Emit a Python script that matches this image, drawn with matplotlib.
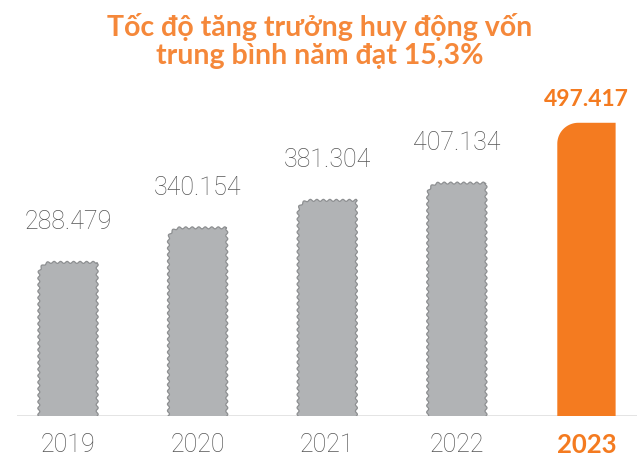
import numpy as np
import matplotlib
matplotlib.use('Agg')
import matplotlib.pyplot as plt
from matplotlib.patches import PathPatch
from matplotlib.path import Path
from matplotlib.transforms import ScaledTranslation

# data (nghìn tỷ đồng)
years = ['2019', '2020', '2021', '2022', '2023']
values = [288.479, 340.154, 381.304, 407.134, 497.417]
value_labels = ['288.479', '340.154', '381.304', '407.134', '497.417']
title = 'Tốc độ tăng trưởng huy động vốn\ntrung bình năm đạt 15,3%'

ORANGE = '#f47b20'
TITLE_ORANGE = '#f5883a'
GRAY_FILL = '#b1b3b5'
GRAY_EDGE = '#8d8f91'
TEXT_GRAY = '#555555'
LIGHT_FONT = ['Roboto', 'DejaVu Sans']
BOLD_FONT = ['Lato', 'DejaVu Sans']

W, H, DPI = 640, 464, 100
BASE = 58.6
fig = plt.figure(figsize=(W / DPI, H / DPI), dpi=DPI)
ax = fig.add_axes([17 / W, (H - 417) / H, 620 / W, 317 / H])
ax.set_xlim(-0.3935, 4.39)
ax.set_ylim(BASE, 533)
ax.axis('off')
ax.axhline(BASE, color='#7a7a7a', lw=1.0, zorder=1)

bars = ax.bar(range(len(years)), values, width=0.45, color='none', edgecolor='none')


def outline_px(x0, x1, y0, y1, r, wavy):
    """Perimeter of a bar with rounded top-left corner, in pixel space."""
    pts = []
    step = 0.5
    for x in np.arange(x0, x1, step):
        pts.append((x, y0, 0, -1))
    for y in np.arange(y0, y1, step):
        pts.append((x1, y, 1, 0))
    for x in np.arange(x1, x0 + r, -step):
        pts.append((x, y1, 0, 1))
    cx, cy = x0 + r, y1 - r
    for a in np.linspace(np.pi / 2, np.pi, 30):
        pts.append((cx + r * np.cos(a), cy + r * np.sin(a), np.cos(a), np.sin(a)))
    for y in np.arange(y1 - r, y0, -step):
        pts.append((x0, y, -1, 0))
    pts = np.array(pts)
    if wavy:
        d = np.concatenate([[0], np.cumsum(np.hypot(np.diff(pts[:, 0]), np.diff(pts[:, 1])))])
        off = 1.0 * np.sin(2 * np.pi * d / 6.5)
        pts[:, 0] += off * pts[:, 2]
        pts[:, 1] += off * pts[:, 3]
    return pts[:, :2]


inv = ax.transData.inverted()
below = ax.transData + ScaledTranslation(0, -28 / DPI, fig.dpi_scale_trans)
for i, rect in enumerate(bars):
    px0, py0 = ax.transData.transform((rect.get_x(), rect.get_y()))
    px1, py1 = ax.transData.transform((rect.get_x() + rect.get_width(),
                                       rect.get_y() + rect.get_height()))
    last = i == len(bars) - 1
    pts = inv.transform(outline_px(px0, px1, py0, py1, 21 if last else 12, not last))
    path = Path(np.vstack([pts, pts[:1]]), closed=True)
    if last:
        patch = PathPatch(path, facecolor=ORANGE, edgecolor='none', zorder=2)
    else:
        patch = PathPatch(path, facecolor=GRAY_FILL, edgecolor=GRAY_EDGE, lw=0.9, zorder=2)
    ax.add_patch(patch)

    cx = rect.get_x() + rect.get_width() / 2
    top = rect.get_y() + rect.get_height()
    if last:
        ax.annotate(value_labels[i], (cx, top), xytext=(0, 14), textcoords='offset pixels',
                    ha='center', va='bottom', fontsize=16.5, fontweight='bold',
                    color=ORANGE, family=BOLD_FONT)
        ax.text(cx, BASE, years[i], transform=below, ha='center', va='center',
                fontsize=18.5, fontweight='bold', color=ORANGE, family=BOLD_FONT)
    else:
        ax.annotate(value_labels[i], (cx, top), xytext=(0, 29), textcoords='offset pixels',
                    ha='center', va='bottom', fontsize=18, fontweight='light',
                    color=TEXT_GRAY, family=LIGHT_FONT)
        ax.text(cx, BASE, years[i], transform=below, ha='center', va='center',
                fontsize=18, fontweight='light', color=TEXT_GRAY, family=LIGHT_FONT)

fig.text(0.5, (H - 41) / H, title, ha='center', va='center', fontsize=20.5,
         fontweight='bold', color=TITLE_ORANGE, linespacing=1.12, family=BOLD_FONT)

fig.savefig('out.png', dpi=DPI)
